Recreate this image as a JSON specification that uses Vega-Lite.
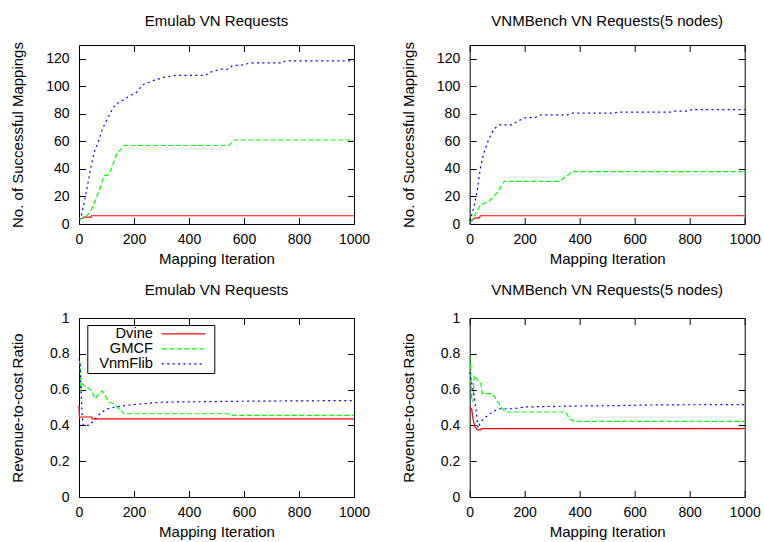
{
"$schema": "https://vega.github.io/schema/vega-lite/v6.json",
"padding": {"left": 9, "top": 13, "right": 0, "bottom": 0},
"background": "white",
"datasets": {
"d": [
{"p":"A","s":"Dvine","x":0,"y":4},{"p":"A","s":"Dvine","x":15,"y":4},{"p":"A","s":"Dvine","x":16,"y":5},{"p":"A","s":"Dvine","x":44,"y":5},{"p":"A","s":"Dvine","x":46,"y":6},{"p":"A","s":"Dvine","x":1000,"y":6},
{"p":"A","s":"GMCF","x":0,"y":4},{"p":"A","s":"GMCF","x":6,"y":4},{"p":"A","s":"GMCF","x":24,"y":5},{"p":"A","s":"GMCF","x":42,"y":9},{"p":"A","s":"GMCF","x":55,"y":15},{"p":"A","s":"GMCF","x":73,"y":24},{"p":"A","s":"GMCF","x":91,"y":35},{"p":"A","s":"GMCF","x":109,"y":36},{"p":"A","s":"GMCF","x":121,"y":42},{"p":"A","s":"GMCF","x":139,"y":52},{"p":"A","s":"GMCF","x":152,"y":54},{"p":"A","s":"GMCF","x":164,"y":57},{"p":"A","s":"GMCF","x":545,"y":57},{"p":"A","s":"GMCF","x":564,"y":61},{"p":"A","s":"GMCF","x":1000,"y":61},
{"p":"A","s":"VnmFlib","x":0,"y":3},{"p":"A","s":"VnmFlib","x":6,"y":4},{"p":"A","s":"VnmFlib","x":18,"y":15},{"p":"A","s":"VnmFlib","x":30,"y":27},{"p":"A","s":"VnmFlib","x":42,"y":40},{"p":"A","s":"VnmFlib","x":55,"y":52},{"p":"A","s":"VnmFlib","x":67,"y":58},{"p":"A","s":"VnmFlib","x":85,"y":69},{"p":"A","s":"VnmFlib","x":97,"y":74},{"p":"A","s":"VnmFlib","x":115,"y":81},{"p":"A","s":"VnmFlib","x":133,"y":87},{"p":"A","s":"VnmFlib","x":152,"y":89},{"p":"A","s":"VnmFlib","x":176,"y":92},{"p":"A","s":"VnmFlib","x":212,"y":96},{"p":"A","s":"VnmFlib","x":230,"y":101},{"p":"A","s":"VnmFlib","x":267,"y":104},{"p":"A","s":"VnmFlib","x":309,"y":106.5},{"p":"A","s":"VnmFlib","x":352,"y":108},{"p":"A","s":"VnmFlib","x":461,"y":108},{"p":"A","s":"VnmFlib","x":473,"y":110},{"p":"A","s":"VnmFlib","x":515,"y":112.5},{"p":"A","s":"VnmFlib","x":545,"y":112.5},{"p":"A","s":"VnmFlib","x":558,"y":115},{"p":"A","s":"VnmFlib","x":594,"y":115.5},{"p":"A","s":"VnmFlib","x":624,"y":117},{"p":"A","s":"VnmFlib","x":739,"y":117},{"p":"A","s":"VnmFlib","x":751,"y":118.5},{"p":"A","s":"VnmFlib","x":1000,"y":118.5},
{"p":"B","s":"Dvine","x":0,"y":1},{"p":"B","s":"Dvine","x":5,"y":2},{"p":"B","s":"Dvine","x":12,"y":3.5},{"p":"B","s":"Dvine","x":22,"y":4.5},{"p":"B","s":"Dvine","x":36,"y":4.5},{"p":"B","s":"Dvine","x":38,"y":6},{"p":"B","s":"Dvine","x":1000,"y":6},
{"p":"B","s":"GMCF","x":0,"y":1},{"p":"B","s":"GMCF","x":4,"y":1.5},{"p":"B","s":"GMCF","x":22,"y":8},{"p":"B","s":"GMCF","x":40,"y":14},{"p":"B","s":"GMCF","x":52,"y":15},{"p":"B","s":"GMCF","x":70,"y":16.5},{"p":"B","s":"GMCF","x":88,"y":20},{"p":"B","s":"GMCF","x":107,"y":25},{"p":"B","s":"GMCF","x":125,"y":31},{"p":"B","s":"GMCF","x":325,"y":31},{"p":"B","s":"GMCF","x":337,"y":32.5},{"p":"B","s":"GMCF","x":355,"y":35},{"p":"B","s":"GMCF","x":374,"y":38},{"p":"B","s":"GMCF","x":1000,"y":38},
{"p":"B","s":"VnmFlib","x":0,"y":2},{"p":"B","s":"VnmFlib","x":4,"y":4},{"p":"B","s":"VnmFlib","x":16,"y":13},{"p":"B","s":"VnmFlib","x":28,"y":25},{"p":"B","s":"VnmFlib","x":40,"y":42},{"p":"B","s":"VnmFlib","x":52,"y":52},{"p":"B","s":"VnmFlib","x":70,"y":62},{"p":"B","s":"VnmFlib","x":88,"y":69},{"p":"B","s":"VnmFlib","x":107,"y":72},{"p":"B","s":"VnmFlib","x":155,"y":72},{"p":"B","s":"VnmFlib","x":173,"y":74.5},{"p":"B","s":"VnmFlib","x":198,"y":77},{"p":"B","s":"VnmFlib","x":240,"y":77.5},{"p":"B","s":"VnmFlib","x":258,"y":79.3},{"p":"B","s":"VnmFlib","x":355,"y":79.3},{"p":"B","s":"VnmFlib","x":368,"y":80.5},{"p":"B","s":"VnmFlib","x":526,"y":80.5},{"p":"B","s":"VnmFlib","x":538,"y":81.3},{"p":"B","s":"VnmFlib","x":733,"y":81.3},{"p":"B","s":"VnmFlib","x":745,"y":82},{"p":"B","s":"VnmFlib","x":800,"y":82},{"p":"B","s":"VnmFlib","x":806,"y":83},{"p":"B","s":"VnmFlib","x":1000,"y":83},
{"p":"C","s":"Dvine","x":0,"y":0.51},{"p":"C","s":"Dvine","x":2,"y":0.437},{"p":"C","s":"Dvine","x":3,"y":0.447},{"p":"C","s":"Dvine","x":47,"y":0.447},{"p":"C","s":"Dvine","x":48,"y":0.437},{"p":"C","s":"Dvine","x":1000,"y":0.437},
{"p":"C","s":"GMCF","x":0,"y":0.76},{"p":"C","s":"GMCF","x":4,"y":0.75},{"p":"C","s":"GMCF","x":7,"y":0.59},{"p":"C","s":"GMCF","x":12,"y":0.633},{"p":"C","s":"GMCF","x":20,"y":0.62},{"p":"C","s":"GMCF","x":30,"y":0.615},{"p":"C","s":"GMCF","x":40,"y":0.6},{"p":"C","s":"GMCF","x":48,"y":0.587},{"p":"C","s":"GMCF","x":58,"y":0.549},{"p":"C","s":"GMCF","x":73,"y":0.577},{"p":"C","s":"GMCF","x":85,"y":0.592},{"p":"C","s":"GMCF","x":97,"y":0.559},{"p":"C","s":"GMCF","x":109,"y":0.531},{"p":"C","s":"GMCF","x":127,"y":0.52},{"p":"C","s":"GMCF","x":145,"y":0.493},{"p":"C","s":"GMCF","x":164,"y":0.465},{"p":"C","s":"GMCF","x":545,"y":0.465},{"p":"C","s":"GMCF","x":560,"y":0.456},{"p":"C","s":"GMCF","x":1000,"y":0.456},
{"p":"C","s":"VnmFlib","x":0,"y":0.77},{"p":"C","s":"VnmFlib","x":4,"y":0.75},{"p":"C","s":"VnmFlib","x":8,"y":0.57},{"p":"C","s":"VnmFlib","x":12,"y":0.45},{"p":"C","s":"VnmFlib","x":15,"y":0.4},{"p":"C","s":"VnmFlib","x":36,"y":0.4},{"p":"C","s":"VnmFlib","x":55,"y":0.428},{"p":"C","s":"VnmFlib","x":73,"y":0.46},{"p":"C","s":"VnmFlib","x":97,"y":0.49},{"p":"C","s":"VnmFlib","x":133,"y":0.503},{"p":"C","s":"VnmFlib","x":206,"y":0.518},{"p":"C","s":"VnmFlib","x":303,"y":0.53},{"p":"C","s":"VnmFlib","x":600,"y":0.535},{"p":"C","s":"VnmFlib","x":1000,"y":0.539},
{"p":"D","s":"Dvine","x":0,"y":0.5},{"p":"D","s":"Dvine","x":7,"y":0.493},{"p":"D","s":"Dvine","x":12,"y":0.437},{"p":"D","s":"Dvine","x":19,"y":0.391},{"p":"D","s":"Dvine","x":25,"y":0.382},{"p":"D","s":"Dvine","x":28,"y":0.375},{"p":"D","s":"Dvine","x":40,"y":0.375},{"p":"D","s":"Dvine","x":42,"y":0.382},{"p":"D","s":"Dvine","x":1000,"y":0.382},
{"p":"D","s":"GMCF","x":0,"y":0.786},{"p":"D","s":"GMCF","x":4,"y":0.7},{"p":"D","s":"GMCF","x":7,"y":0.55},{"p":"D","s":"GMCF","x":12,"y":0.53},{"p":"D","s":"GMCF","x":16,"y":0.68},{"p":"D","s":"GMCF","x":25,"y":0.66},{"p":"D","s":"GMCF","x":40,"y":0.633},{"p":"D","s":"GMCF","x":46,"y":0.577},{"p":"D","s":"GMCF","x":82,"y":0.577},{"p":"D","s":"GMCF","x":95,"y":0.549},{"p":"D","s":"GMCF","x":107,"y":0.521},{"p":"D","s":"GMCF","x":119,"y":0.493},{"p":"D","s":"GMCF","x":131,"y":0.475},{"p":"D","s":"GMCF","x":350,"y":0.475},{"p":"D","s":"GMCF","x":362,"y":0.437},{"p":"D","s":"GMCF","x":380,"y":0.423},{"p":"D","s":"GMCF","x":1000,"y":0.423},
{"p":"D","s":"VnmFlib","x":0,"y":0.698},{"p":"D","s":"VnmFlib","x":7,"y":0.64},{"p":"D","s":"VnmFlib","x":16,"y":0.568},{"p":"D","s":"VnmFlib","x":24,"y":0.475},{"p":"D","s":"VnmFlib","x":30,"y":0.385},{"p":"D","s":"VnmFlib","x":34,"y":0.4},{"p":"D","s":"VnmFlib","x":40,"y":0.42},{"p":"D","s":"VnmFlib","x":58,"y":0.447},{"p":"D","s":"VnmFlib","x":82,"y":0.475},{"p":"D","s":"VnmFlib","x":107,"y":0.493},{"p":"D","s":"VnmFlib","x":155,"y":0.493},{"p":"D","s":"VnmFlib","x":204,"y":0.503},{"p":"D","s":"VnmFlib","x":325,"y":0.507},{"p":"D","s":"VnmFlib","x":507,"y":0.51},{"p":"D","s":"VnmFlib","x":700,"y":0.515},{"p":"D","s":"VnmFlib","x":1000,"y":0.516}
]
},
"data": {"name": "d"},
"columns": 2,
"spacing": {"row": 94, "column": 115.7},
"bounds": "flush",
"resolve": {"legend": {"color": "independent", "strokeDash": "independent"}},
"concat": [
{
 "width": 275, "height": 179,
 "title": "Emulab VN Requests",
 "transform": [{"filter": "datum.p === 'A'"}],
 "layer": [
  {"mark": {"type": "line", "strokeWidth": 1.2},
   "encoding": {
    "x": {"field": "x", "type": "quantitative", "scale": {"domain": [0, 1000], "nice": false}, "axis": {"orient": "bottom", "title": "Mapping Iteration", "values": [0,200,400,600,800,1000], "format": "d"}},
    "y": {"field": "y", "type": "quantitative", "scale": {"domain": [0, 130], "nice": false}, "axis": {"orient": "left", "title": "No. of Successful Mappings", "values": [0,20,40,60,80,100,120], "format": "d"}},
    "color": {"field": "s", "type": "nominal", "scale": {"domain": ["Dvine","GMCF","VnmFlib"], "range": ["#ff0000","#00ff00","#0000ff"]}, "legend": null},
    "strokeDash": {"field": "s", "type": "nominal", "scale": {"domain": ["Dvine","GMCF","VnmFlib"], "range": [[1,0],[5,2.5],[2,3.4]]}, "legend": null}
   }},
  {"mark": {"type": "line", "opacity": 0},
   "encoding": {
    "x": {"field": "x", "type": "quantitative", "axis": {"orient": "top", "labels": false, "title": null, "values": [0,200,400,600,800,1000]}},
    "y": {"field": "y", "type": "quantitative", "axis": {"orient": "right", "labels": false, "title": null, "values": [0,20,40,60,80,100,120]}}
   }}
 ],
 "resolve": {"axis": {"x": "independent", "y": "independent"}}
},
{
 "width": 275, "height": 179,
 "title": "VNMBench VN Requests(5 nodes)",
 "transform": [{"filter": "datum.p === 'B'"}],
 "layer": [
  {"mark": {"type": "line", "strokeWidth": 1.2},
   "encoding": {
    "x": {"field": "x", "type": "quantitative", "scale": {"domain": [0, 1000], "nice": false}, "axis": {"orient": "bottom", "title": "Mapping Iteration", "values": [0,200,400,600,800,1000], "format": "d"}},
    "y": {"field": "y", "type": "quantitative", "scale": {"domain": [0, 130], "nice": false}, "axis": {"orient": "left", "title": "No. of Successful Mappings", "values": [0,20,40,60,80,100,120], "format": "d"}},
    "color": {"field": "s", "type": "nominal", "scale": {"domain": ["Dvine","GMCF","VnmFlib"], "range": ["#ff0000","#00ff00","#0000ff"]}, "legend": null},
    "strokeDash": {"field": "s", "type": "nominal", "scale": {"domain": ["Dvine","GMCF","VnmFlib"], "range": [[1,0],[5,2.5],[2,3.4]]}, "legend": null}
   }},
  {"mark": {"type": "line", "opacity": 0},
   "encoding": {
    "x": {"field": "x", "type": "quantitative", "axis": {"orient": "top", "labels": false, "title": null, "values": [0,200,400,600,800,1000]}},
    "y": {"field": "y", "type": "quantitative", "axis": {"orient": "right", "labels": false, "title": null, "values": [0,20,40,60,80,100,120]}}
   }}
 ],
 "resolve": {"axis": {"x": "independent", "y": "independent"}}
},
{
 "width": 275, "height": 179,
 "title": "Emulab VN Requests",
 "transform": [{"filter": "datum.p === 'C'"}],
 "layer": [
  {"mark": {"type": "line", "strokeWidth": 1.2},
   "encoding": {
    "x": {"field": "x", "type": "quantitative", "scale": {"domain": [0, 1000], "nice": false}, "axis": {"orient": "bottom", "title": "Mapping Iteration", "values": [0,200,400,600,800,1000], "format": "d"}},
    "y": {"field": "y", "type": "quantitative", "scale": {"domain": [0, 1], "nice": false}, "axis": {"orient": "left", "title": "Revenue-to-cost Ratio", "values": [0,0.2,0.4,0.6,0.8,1], "format": "~g"}},
    "color": {"field": "s", "type": "nominal", "scale": {"domain": ["Dvine","GMCF","VnmFlib"], "range": ["#ff0000","#00ff00","#0000ff"]},
      "legend": {"orient": "none", "legendX": 8.3, "legendY": 7, "title": null, "strokeColor": "black", "fillColor": "white", "padding": 1.5, "symbolType": "M65.7,0H109M113.5,0", "symbolSize": 4, "symbolStrokeWidth": 1.2, "labelOffset": 49.5, "labelAlign": "right", "labelBaseline": "middle", "labelFontSize": 14.7, "labelFont": "Liberation Sans", "labelColor": "black", "rowPadding": -8, "cornerRadius": 0}},
    "strokeDash": {"field": "s", "type": "nominal", "scale": {"domain": ["Dvine","GMCF","VnmFlib"], "range": [[1,0],[5,2.5],[2,3.4]]},
      "legend": {"orient": "none", "legendX": 8.3, "legendY": 7, "title": null, "strokeColor": "black", "fillColor": "white", "padding": 1.5, "symbolType": "M65.7,0H109M113.5,0", "symbolSize": 4, "symbolStrokeWidth": 1.2, "labelOffset": 49.5, "labelAlign": "right", "labelBaseline": "middle", "labelFontSize": 14.7, "labelFont": "Liberation Sans", "labelColor": "black", "rowPadding": -8, "cornerRadius": 0}}
   }},
  {"mark": {"type": "line", "opacity": 0},
   "encoding": {
    "x": {"field": "x", "type": "quantitative", "axis": {"orient": "top", "labels": false, "title": null, "values": [0,200,400,600,800,1000]}},
    "y": {"field": "y", "type": "quantitative", "axis": {"orient": "right", "labels": false, "title": null, "values": [0,0.2,0.4,0.6,0.8,1]}}
   }}
 ],
 "resolve": {"axis": {"x": "independent", "y": "independent"}}
},
{
 "width": 275, "height": 179,
 "title": "VNMBench VN Requests(5 nodes)",
 "transform": [{"filter": "datum.p === 'D'"}],
 "layer": [
  {"mark": {"type": "line", "strokeWidth": 1.2},
   "encoding": {
    "x": {"field": "x", "type": "quantitative", "scale": {"domain": [0, 1000], "nice": false}, "axis": {"orient": "bottom", "title": "Mapping Iteration", "values": [0,200,400,600,800,1000], "format": "d"}},
    "y": {"field": "y", "type": "quantitative", "scale": {"domain": [0, 1], "nice": false}, "axis": {"orient": "left", "title": "Revenue-to-cost Ratio", "values": [0,0.2,0.4,0.6,0.8,1], "format": "~g"}},
    "color": {"field": "s", "type": "nominal", "scale": {"domain": ["Dvine","GMCF","VnmFlib"], "range": ["#ff0000","#00ff00","#0000ff"]}, "legend": null},
    "strokeDash": {"field": "s", "type": "nominal", "scale": {"domain": ["Dvine","GMCF","VnmFlib"], "range": [[1,0],[5,2.5],[2,3.4]]}, "legend": null}
   }},
  {"mark": {"type": "line", "opacity": 0},
   "encoding": {
    "x": {"field": "x", "type": "quantitative", "axis": {"orient": "top", "labels": false, "title": null, "values": [0,200,400,600,800,1000]}},
    "y": {"field": "y", "type": "quantitative", "axis": {"orient": "right", "labels": false, "title": null, "values": [0,0.2,0.4,0.6,0.8,1]}}
   }}
 ],
 "resolve": {"axis": {"x": "independent", "y": "independent"}}
}
],
"config": {
 "font": "Liberation Sans",
 "view": {"stroke": "black", "strokeWidth": 1},
 "axis": {"grid": false, "domain": false, "ticks": true, "tickColor": "black", "tickSize": -6.5, "tickWidth": 1, "labelFont": "Liberation Sans", "labelFontSize": 14, "labelColor": "black", "labelFlush": false, "labelOverlap": false, "titleFont": "Liberation Sans", "titleFontSize": 15, "titleFontWeight": "normal", "titleColor": "black"},
 "axisBottom": {"labelPadding": 14.5, "titleX": 137.5, "titleY": 34, "titleBaseline": "middle"},
 "axisLeft": {"labelPadding": 16.5, "titleX": -61.7, "titleY": 89.5, "titleBaseline": "middle"},
 "title": {"font": "Liberation Sans", "fontSize": 15, "fontWeight": "normal", "color": "black", "frame": "group", "offset": 13, "baseline": "middle", "anchor": "middle"}
}
}
